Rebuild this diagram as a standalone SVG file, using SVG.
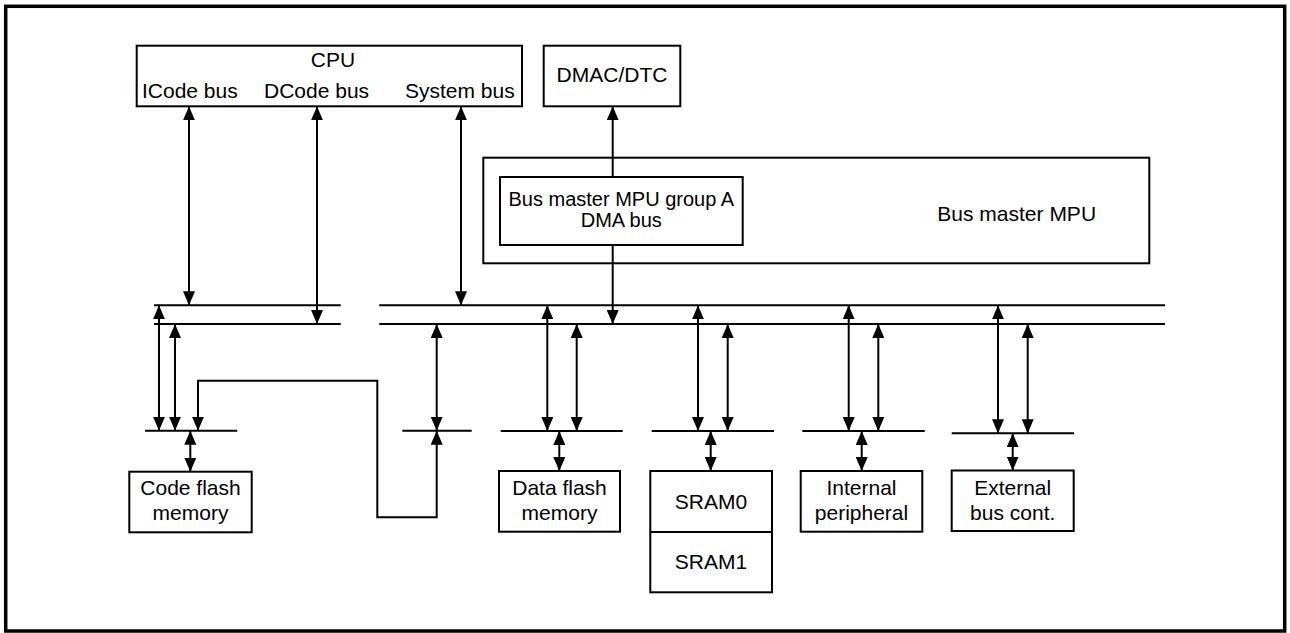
<svg xmlns="http://www.w3.org/2000/svg" width="1290" height="633" viewBox="0 0 1290 633">
<defs>
<marker id="ah" viewBox="0 0 14 12" refX="14" refY="6" markerWidth="14" markerHeight="12" markerUnits="userSpaceOnUse" orient="auto-start-reverse">
<path d="M0,0 L14,6 L0,12 z" fill="#000"/>
</marker>
<style>
.box{fill:#fff;stroke:#000;stroke-width:2}
.bus{stroke:#000;stroke-width:2;fill:none}
.ln{stroke:#000;stroke-width:2;fill:none}
.a2{marker-start:url(#ah);marker-end:url(#ah)}
.a1{marker-end:url(#ah)}
text{font-family:"Liberation Sans",Arial,sans-serif;font-size:21px;fill:#000}
.m{text-anchor:middle}
</style>
</defs>
<rect x="0" y="0" width="1290" height="633" fill="#fff"/>
<rect x="5.7" y="6.3" width="1279" height="624.7" fill="none" stroke="#000" stroke-width="3.5"/>

<g id="cpu">
<rect class="box" x="136.7" y="45.7" width="385.3" height="60.6"/>
<text class="m" x="333" y="67">CPU</text>
<text x="142" y="98">ICode bus</text>
<text x="264" y="98">DCode bus</text>
<text x="405" y="98">System bus</text>
</g>
<g id="dmac">
<rect class="box" x="543.7" y="45.7" width="136.6" height="60.6"/>
<text class="m" x="612" y="82">DMAC/DTC</text>
</g>
<g id="mpu">
<rect class="box" x="483.3" y="157.7" width="666" height="105.6"/>
<text class="m" x="1016.7" y="221">Bus master MPU</text>
</g>
<g id="mpuA">
<rect class="box" x="500" y="177" width="242.7" height="68"/>
<text class="m" x="621.3" y="205.7" style="font-size:20px">Bus master MPU group A</text>
<text class="m" x="621.3" y="226.7" style="font-size:20px">DMA bus</text>
</g>
<g id="codeflash">
<rect class="box" x="129.3" y="471.7" width="122.4" height="60.6"/>
<text class="m" x="190.5" y="495">Code flash</text>
<text class="m" x="190.5" y="520">memory</text>
</g>
<g id="dataflash">
<rect class="box" x="499" y="471" width="121" height="60.7"/>
<text class="m" x="559.5" y="495">Data flash</text>
<text class="m" x="559.5" y="520">memory</text>
</g>
<g id="sram">
<rect class="box" x="650.3" y="471" width="121.7" height="121.3"/>
<line class="ln" x1="650.3" y1="532" x2="772" y2="532"/>
<text class="m" x="711" y="508.5">SRAM0</text>
<text class="m" x="711" y="568.5">SRAM1</text>
</g>
<g id="internal">
<rect class="box" x="800.7" y="471" width="121.6" height="60.7"/>
<text class="m" x="861.5" y="495">Internal</text>
<text class="m" x="861.5" y="520">peripheral</text>
</g>
<g id="external">
<rect class="box" x="951.7" y="470.5" width="122" height="60.5"/>
<text class="m" x="1012.7" y="495">External</text>
<text class="m" x="1012.7" y="520">bus cont.</text>
</g>

<g id="connectors">
<!-- main buses -->
<line class="bus" x1="154" y1="305.3" x2="340.7" y2="305.3"/>
<line class="bus" x1="154" y1="324" x2="340.7" y2="324"/>
<line class="bus" x1="379.3" y1="305.3" x2="1165" y2="305.3"/>
<line class="bus" x1="379.3" y1="324" x2="1165" y2="324"/>
<!-- small buses -->
<line class="bus" x1="145" y1="430.7" x2="237.3" y2="430.7"/>
<line class="bus" x1="402.3" y1="430.7" x2="471.7" y2="430.7"/>
<line class="bus" x1="500.7" y1="431" x2="622.7" y2="431"/>
<line class="bus" x1="651.7" y1="431" x2="774" y2="431"/>
<line class="bus" x1="802.3" y1="431" x2="924.7" y2="431"/>
<line class="bus" x1="951.7" y1="433.3" x2="1074" y2="433.3"/>
<!-- CPU arrows -->
<line class="ln a2" x1="189" y1="106.3" x2="189" y2="305.3"/>
<line class="ln a2" x1="317" y1="106.3" x2="317" y2="324"/>
<line class="ln a2" x1="461" y1="106.3" x2="461" y2="305.3"/>
<!-- DMAC / MPU -->
<line class="ln a1" x1="612.7" y1="177" x2="612.7" y2="106.3"/>
<line class="ln a1" x1="612.7" y1="245" x2="612.7" y2="324"/>
<!-- code flash -->
<line class="ln a2" x1="159" y1="305.3" x2="159" y2="430.7"/>
<line class="ln a2" x1="175" y1="324" x2="175" y2="430.7"/>
<line class="ln a2" x1="190.3" y1="430.7" x2="190.3" y2="471.7"/>
<path class="ln a2" d="M198,430.7 L198,380.7 L377.3,380.7 L377.3,517.3 L436.7,517.3 L436.7,430.7"/>
<line class="ln a2" x1="436.7" y1="324" x2="436.7" y2="430.7"/>
<!-- data flash -->
<line class="ln a2" x1="547.3" y1="305.3" x2="547.3" y2="431"/>
<line class="ln a2" x1="576.7" y1="324" x2="576.7" y2="431"/>
<line class="ln a2" x1="559.3" y1="431" x2="559.3" y2="471"/>
<!-- SRAM -->
<line class="ln a2" x1="698" y1="305.3" x2="698" y2="431"/>
<line class="ln a2" x1="727.7" y1="324" x2="727.7" y2="431"/>
<line class="ln a2" x1="710.7" y1="431" x2="710.7" y2="471"/>
<!-- internal -->
<line class="ln a2" x1="848.7" y1="305.3" x2="848.7" y2="431"/>
<line class="ln a2" x1="878.3" y1="324" x2="878.3" y2="431"/>
<line class="ln a2" x1="861.7" y1="431" x2="861.7" y2="471"/>
<!-- external -->
<line class="ln a2" x1="998" y1="305.3" x2="998" y2="433.3"/>
<line class="ln a2" x1="1027.7" y1="324" x2="1027.7" y2="433.3"/>
<line class="ln a2" x1="1012.7" y1="433.3" x2="1012.7" y2="470.5"/>
</g>
</svg>
